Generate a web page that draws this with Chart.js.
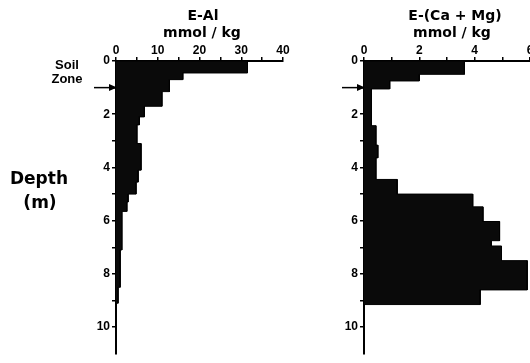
<!DOCTYPE html>
<html>
<head>
<meta charset="utf-8">
<script src="https://cdn.jsdelivr.net/npm/chart.js@4/dist/chart.umd.min.js"></script>
<style>
    html, body { margin: 0; padding: 0; background: #fff; overflow: hidden; width: 530px; height: 363px; }
    canvas { position: absolute; top: 0; }
    #alChart { left: 60px; }
    #camgChart { left: 300px; }
    .lbl { position: absolute; transform: translate(-50%, -50%); white-space: nowrap; color: #000;
           font-family: "DejaVu Sans", sans-serif; font-weight: bold; line-height: 1; }
    .title { font-size: 14px; }
    .soil { font-size: 13px; font-family: "Liberation Sans", sans-serif; }
    .depth { font-size: 17px; }
</style>
</head>
<body>
<canvas id="alChart" width="240" height="363"></canvas>
<canvas id="camgChart" width="260" height="363"></canvas>

<div class="lbl title" style="left:203px; top:15px;">E-Al</div>
<div class="lbl title" style="left:202px; top:32px;">mmol / kg</div>
<div class="lbl title" style="left:455px; top:15px;">E-(Ca + Mg)</div>
<div class="lbl title" style="left:452px; top:32px;">mmol / kg</div>
<div class="lbl soil" style="left:67px; top:64px;">Soil</div>
<div class="lbl soil" style="left:67px; top:78px;">Zone</div>
<div class="lbl depth" style="left:39px; top:178px;">Depth</div>
<div class="lbl depth" style="left:40px; top:202px;">(m)</div>

<script>
// Profondeurs (m) des limites des couches et valeurs mesurées
const alDepths = [0, 0.45, 0.7, 1.15, 1.7, 2.1, 2.4, 3.1, 4.1, 4.55, 5.0, 5.3, 5.65, 7.1, 8.5, 9.1];
const alValues = [31.5, 16, 12.8, 11, 6.8, 5.6, 5.0, 6.0, 5.3, 4.8, 2.9, 2.6, 1.4, 1.0, 0.5];

const camgDepths = [0, 0.5, 0.75, 1.05, 2.43, 3.16, 3.64, 4.45, 5.0, 5.48, 6.03, 6.75, 6.95, 7.5, 8.6, 9.15];
const camgValues = [3.63, 2.0, 0.93, 0.27, 0.43, 0.5, 0.43, 1.2, 3.93, 4.3, 4.9, 4.6, 4.97, 5.9, 4.2];

// Axes
const depthTicks = [0, 1, 2, 3, 4, 5, 6, 7, 8, 9, 10];
const depthLabels = ['0', '', '2', '', '4', '', '6', '', '8', '', '10'];
const alTicks = [0, 5, 10, 15, 20, 25, 30, 35, 40];
const alLabels = ['0', '', '10', '', '20', '', '30', '', '40'];
const camgTicks = [0, 1, 2, 3, 4, 5, 6];
const camgLabels = ['0', '', '2', '', '4', '', '6'];
const depthMax = 11;
const soilZoneDepth = 1.0;

// Construit le profil en escalier (points du contour)
function profile(depths, values) {
    const pts = [{x: 0, y: depths[0]}];
    values.forEach((v, i) => {
        pts.push({x: v, y: depths[i]});
        pts.push({x: v, y: depths[i + 1]});
    });
    pts.push({x: 0, y: depths[depths.length - 1]});
    return pts;
}

// Petite flèche de la zone de sol
const soilArrow = {
    id: 'soilArrow',
    afterDraw(chart) {
        const ctx = chart.ctx;
        const y = chart.scales.y.getPixelForValue(soilZoneDepth);
        const x0 = chart.chartArea.left;
        ctx.save();
        ctx.strokeStyle = '#000';
        ctx.fillStyle = '#000';
        ctx.lineWidth = 1.5;
        ctx.beginPath();
        ctx.moveTo(x0 - 22, y);
        ctx.lineTo(x0, y);
        ctx.stroke();
        ctx.beginPath();
        ctx.moveTo(x0 + 1, y);
        ctx.lineTo(x0 - 7, y - 3.5);
        ctx.lineTo(x0 - 7, y + 3.5);
        ctx.closePath();
        ctx.fill();
        ctx.restore();
    }
};

function makeChart(id, depths, values, xMax, xTicks, xLabels, yWidth, padRight) {
    return new Chart(document.getElementById(id), {
        type: 'line',
        data: {
            datasets: [{
                data: profile(depths, values),
                borderColor: '#000',
                backgroundColor: '#0a0a0a',
                borderWidth: 1,
                pointRadius: 0,
                fill: 'origin'
            }]
        },
        options: {
            indexAxis: 'y',
            responsive: false,
            animation: false,
            layout: { padding: { left: 0, right: padRight, top: 0, bottom: 3 } },
            plugins: { legend: { display: false }, tooltip: { enabled: false } },
            scales: {
                x: {
                    type: 'linear',
                    position: 'top',
                    min: 0,
                    max: xMax,
                    afterFit: s => { s.height = 61; },
                    afterBuildTicks: s => { s.ticks = xTicks.map(v => ({value: v})); },
                    ticks: {
                        autoSkip: false,
                        maxRotation: 0,
                        padding: -1,
                        color: '#000',
                        font: { family: 'Liberation Sans', size: 12, weight: 'bold' },
                        callback: (v, i) => xLabels[i]
                    },
                    grid: { drawOnChartArea: false, tickLength: 4, color: '#000', lineWidth: 1.5 },
                    border: { color: '#000', width: 2 }
                },
                y: {
                    type: 'linear',
                    reverse: true,
                    min: 0,
                    max: depthMax,
                    afterFit: s => { s.width = yWidth; },
                    afterBuildTicks: s => { s.ticks = depthTicks.map(v => ({value: v})); },
                    ticks: {
                        autoSkip: false,
                        padding: 2,
                        color: '#000',
                        font: { family: 'Liberation Sans', size: 12, weight: 'bold' },
                        callback: (v, i) => depthLabels[i]
                    },
                    grid: { drawOnChartArea: false, tickLength: 4, color: '#000', lineWidth: 1.5 },
                    border: { color: '#000', width: 2 }
                }
            }
        },
        plugins: [soilArrow]
    });
}

makeChart('alChart', alDepths, alValues, 40, alTicks, alLabels, 56, 17);
makeChart('camgChart', camgDepths, camgValues, 6, camgTicks, camgLabels, 64, 30);
</script>
</body>
</html>
